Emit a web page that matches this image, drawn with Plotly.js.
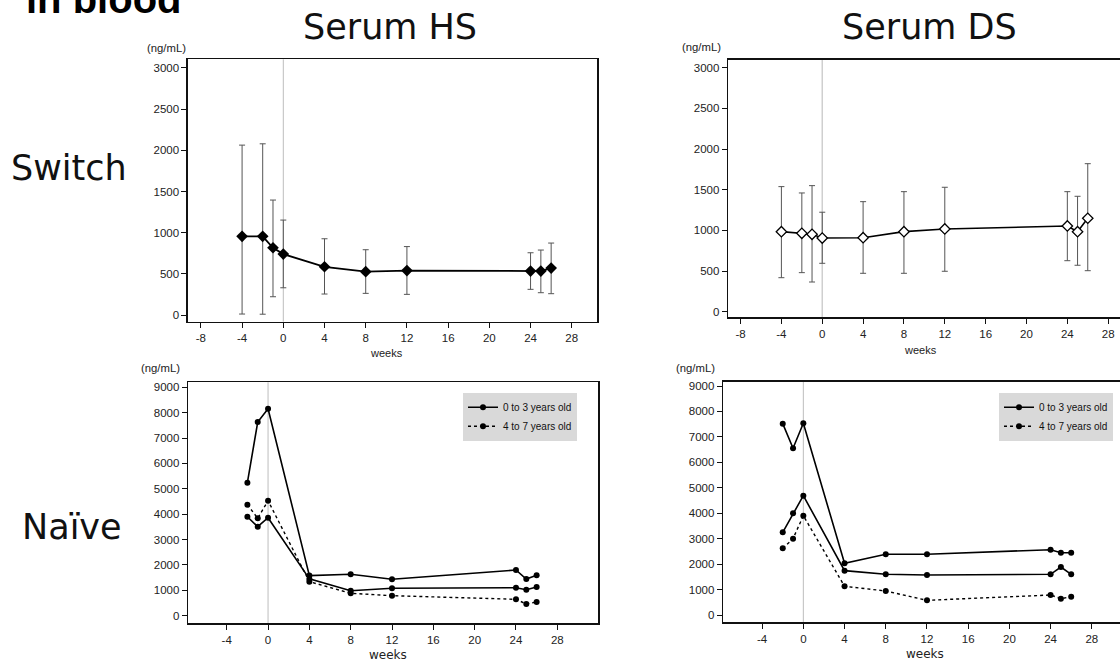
<!DOCTYPE html>
<html>
<head>
<meta charset="utf-8">
<script src="https://cdn.plot.ly/plotly-3.0.1.min.js"></script>
<style>
html, body { margin:0; padding:0; overflow:hidden; background:#fff; }
#chart { width:1140px; height:661px; }
</style>
</head>
<body>
<div id="chart"></div>
<script>
// ---------- data ----------
const weeksSwitch = [-4, -2, -1, 0, 4, 8, 12, 24, 25, 26];
const hsSwitchMean  = [955, 955, 817, 740, 586, 526, 540, 534, 534, 570];
const hsSwitchUpper = [2063, 2079, 1396, 1153, 926, 793, 831, 756, 789, 874];
const hsSwitchLower = [12, 10, 222, 331, 255, 263, 251, 312, 271, 259];

const dsSwitchMean  = [984, 964, 952, 906, 910, 984, 1017, 1054, 984, 1149];
const dsSwitchUpper = [1538, 1460, 1550, 1223, 1353, 1476, 1530, 1476, 1419, 1820];
const dsSwitchLower = [418, 480, 365, 595, 472, 472, 497, 627, 571, 504];

const weeksNaive = [-2, -1, 0, 4, 8, 12, 24, 25, 26];
const hsNaiveA = [5240, 7632, 8156, 1580, 1631, 1434, 1800, 1446, 1592];
const hsNaiveB = [3900, 3507, 3861, 1450, 985, 1080, 1103, 1024, 1131];
const hsNaiveC = [4373, 3838, 4531, 1340, 883, 788, 646, 461, 540];

const dsNaiveA = [7520, 6552, 7534, 2031, 2386, 2386, 2567, 2449, 2449];
const dsNaiveB = [3250, 3997, 4690, 1742, 1600, 1572, 1600, 1887, 1600];
const dsNaiveC = [2621, 3000, 3903, 1128, 943, 577, 786, 641, 720];

const xTicksTop = [-8, -4, 0, 4, 8, 12, 16, 20, 24, 28];
const xTicksTopText = ["-8", "-4", "0", "4", "8", "12", "16", "20", "24", "28"];
const xTicksBottom = [-4, 0, 4, 8, 12, 16, 20, 24, 28];
const xTicksBottomText = ["-4", "0", "4", "8", "12", "16", "20", "24", "28"];

const legendNames = ["0 to 3 years old", "4 to 7 years old"];
const panelTitles = ["Serum HS", "Serum DS"];
const rowTitles = ["Switch", "Naïve"];
const headerText = "in blood";
const unitLabel = "(ng/mL)";
const xLabel = "weeks";

// ---------- helpers ----------
const W = 1140, H = 661;
const px = v => v / W;
const py = v => 1 - v / H;
const up = (m, u) => u.map((v, i) => v - m[i]);
const dn = (m, l) => m.map((v, i) => v - l[i]);

const errStyle = { type: 'data', symmetric: false, color: '#555', thickness: 1, width: 3 };

const traces = [
  { x: weeksSwitch, y: hsSwitchMean, xaxis: 'x', yaxis: 'y', type: 'scatter', mode: 'lines+markers',
    line: { color: '#000', width: 1.8 }, marker: { symbol: 'diamond', size: 9, color: '#000' },
    error_y: Object.assign({ array: up(hsSwitchMean, hsSwitchUpper), arrayminus: dn(hsSwitchMean, hsSwitchLower) }, errStyle),
    showlegend: false },
  { x: weeksSwitch, y: dsSwitchMean, xaxis: 'x2', yaxis: 'y2', type: 'scatter', mode: 'lines+markers',
    line: { color: '#000', width: 1.6 }, marker: { symbol: 'diamond', size: 8, color: '#fff', line: { color: '#000', width: 1.3 } },
    error_y: Object.assign({ array: up(dsSwitchMean, dsSwitchUpper), arrayminus: dn(dsSwitchMean, dsSwitchLower) }, errStyle),
    showlegend: false },
  { x: weeksNaive, y: hsNaiveA, xaxis: 'x3', yaxis: 'y3', type: 'scatter', mode: 'lines+markers', name: legendNames[0],
    line: { color: '#000', width: 1.6 }, marker: { size: 6, color: '#000' }, legend: 'legend' },
  { x: weeksNaive, y: hsNaiveB, xaxis: 'x3', yaxis: 'y3', type: 'scatter', mode: 'lines+markers', name: legendNames[0],
    line: { color: '#000', width: 1.6 }, marker: { size: 6, color: '#000' }, showlegend: false },
  { x: weeksNaive, y: hsNaiveC, xaxis: 'x3', yaxis: 'y3', type: 'scatter', mode: 'lines+markers', name: legendNames[1],
    line: { color: '#000', width: 1.4, dash: 'dot' }, marker: { size: 6, color: '#000' }, legend: 'legend' },
  { x: weeksNaive, y: dsNaiveA, xaxis: 'x4', yaxis: 'y4', type: 'scatter', mode: 'lines+markers', name: legendNames[0],
    line: { color: '#000', width: 1.6 }, marker: { size: 6, color: '#000' }, legend: 'legend2' },
  { x: weeksNaive, y: dsNaiveB, xaxis: 'x4', yaxis: 'y4', type: 'scatter', mode: 'lines+markers', name: legendNames[0],
    line: { color: '#000', width: 1.6 }, marker: { size: 6, color: '#000' }, showlegend: false },
  { x: weeksNaive, y: dsNaiveC, xaxis: 'x4', yaxis: 'y4', type: 'scatter', mode: 'lines+markers', name: legendNames[1],
    line: { color: '#000', width: 1.4, dash: 'dot' }, marker: { size: 6, color: '#000' }, legend: 'legend2' }
];

const tickFont = { family: 'Liberation Sans, Arial, sans-serif', size: 11.5, color: '#222' };
function xax(dom, range, anchor, vals, texts) {
  return { domain: dom, range: range, anchor: anchor, tickmode: 'array', tickvals: vals, ticktext: texts,
    ticks: 'outside', ticklen: 5,
    tickcolor: '#111', showline: true, mirror: true, linecolor: '#111', linewidth: 1.6,
    showgrid: false, zeroline: false, tickfont: tickFont, fixedrange: true };
}
function yax(dom, range, dtick, anchor) {
  return { domain: dom, range: range, anchor: anchor, tick0: 0, dtick: dtick, ticks: 'outside', ticklen: 5,
    tickcolor: '#111', showline: true, mirror: true, linecolor: '#111', linewidth: 1.6,
    showgrid: false, zeroline: false, tickfont: tickFont, fixedrange: true };
}

const legendBase = { bgcolor: '#d9d9d9', borderwidth: 0, xanchor: 'left', yanchor: 'top',
  font: { family: 'Liberation Sans, Arial, sans-serif', size: 10, color: '#111' }, tracegroupgap: 0, itemwidth: 30 };

const titleFont = { family: 'DejaVu Sans, Verdana, sans-serif', size: 35, color: '#111' };
const unitFont = { family: 'Liberation Sans, Arial, sans-serif', size: 11.3, color: '#222' };
const weeksTopFont = { family: 'Liberation Sans, Arial, sans-serif', size: 11, color: '#222' };
const weeksBotFont = { family: 'DejaVu Sans, Verdana, sans-serif', size: 12, color: '#222' };

function ann(text, x, y, font, xanchor) {
  return { text: text, x: px(x), y: py(y), xref: 'paper', yref: 'paper', showarrow: false,
    xanchor: xanchor || 'center', yanchor: 'middle', font: font };
}

const layout = {
  width: W, height: H,
  margin: { l: 0, r: 0, t: 0, b: 0 },
  paper_bgcolor: '#fff', plot_bgcolor: '#fff',
  xaxis:  xax([px(188), px(597)], [-9.25, 30.45], 'y', xTicksTop, xTicksTopText),
  yaxis:  yax([py(321.7), py(59.3)], [-81, 3105], 500, 'x'),
  xaxis2: xax([px(728.3), px(1133)], [-9.2, 30.43], 'y2', xTicksTop, xTicksTopText),
  yaxis2: yax([py(317.3), py(60)], [-69, 3095], 500, 'x2'),
  xaxis3: xax([px(188.3), px(598.3)], [-7.72, 31.97], 'y3', xTicksBottom, xTicksBottomText),
  yaxis3: yax([py(623.3), py(382.3)], [-300, 9197], 1000, 'x3'),
  xaxis4: xax([px(723.3), px(1133)], [-7.77, 32.0], 'y4', xTicksBottom, xTicksBottomText),
  yaxis4: yax([py(622.3), py(381.7)], [-287, 9169], 1000, 'x4'),
  legend:  Object.assign({ x: px(463), y: py(392.7) }, legendBase),
  legend2: Object.assign({ x: px(999), y: py(392.7) }, legendBase),
  shapes: [
    { type: 'line', xref: 'x',  yref: 'y domain',  x0: 0, x1: 0, y0: 0, y1: 1, line: { color: '#bdbdbd', width: 1 }, layer: 'below' },
    { type: 'line', xref: 'x2', yref: 'y2 domain', x0: 0, x1: 0, y0: 0, y1: 1, line: { color: '#cfcfcf', width: 1.5 }, layer: 'below' },
    { type: 'line', xref: 'x3', yref: 'y3 domain', x0: 0, x1: 0, y0: 0, y1: 1, line: { color: '#bdbdbd', width: 1 }, layer: 'below' },
    { type: 'line', xref: 'x4', yref: 'y4 domain', x0: 0, x1: 0, y0: 0, y1: 1, line: { color: '#bdbdbd', width: 1 }, layer: 'below' }
  ],
  annotations: [
    ann(headerText, 184, -1, { family: 'Liberation Sans, Arial, sans-serif', size: 40, color: '#000', weight: 'bold' }, 'right'),
    ann(panelTitles[0], 390, 27, titleFont),
    ann(panelTitles[1], 929, 27, titleFont),
    ann(rowTitles[0], 69, 168, titleFont),
    ann(rowTitles[1], 72, 527, titleFont),
    ann(unitLabel, 166.5, 47.5, unitFont),
    ann(unitLabel, 701.5, 47, unitFont),
    ann(unitLabel, 160.5, 368, unitFont),
    ann(unitLabel, 695.5, 368, unitFont),
    ann(xLabel, 386, 352.7, weeksTopFont),
    ann(xLabel, 920, 350, weeksTopFont),
    ann(xLabel, 388, 655, weeksBotFont),
    ann(xLabel, 925, 654, weeksBotFont)
  ]
};

Plotly.newPlot('chart', traces, layout, { displayModeBar: false, staticPlot: true });
</script>
</body>
</html>
